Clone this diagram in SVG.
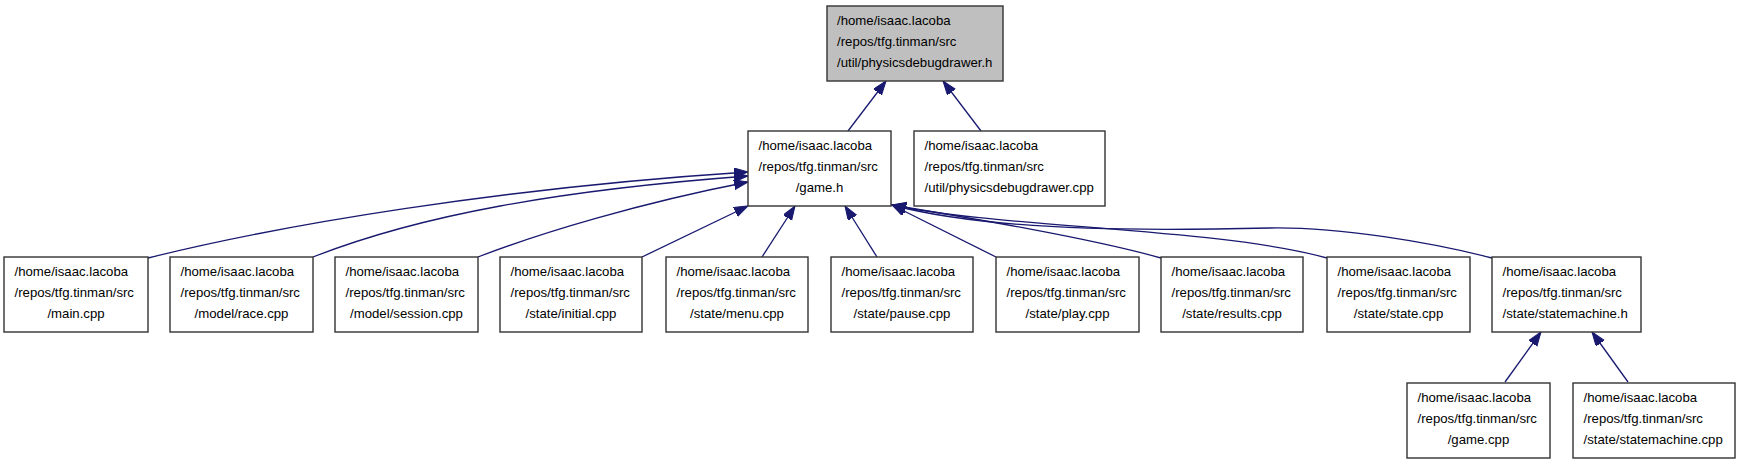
<svg xmlns="http://www.w3.org/2000/svg" width="1741" height="464" viewBox="0 0 1741 464">
<style>
.n rect{fill:#ffffff;stroke:#333333;stroke-width:1.4}
.n.hl rect{fill:#bfbfbf}
.n text{font-family:"Liberation Sans",Arial,Helvetica,sans-serif;font-size:13.2px;fill:#000}
.c{text-anchor:middle}
.e path{fill:none;stroke:#191970;stroke-width:1.3;marker-end:url(#ah)}
</style>
<defs>
<marker id="ah" markerUnits="userSpaceOnUse" markerWidth="15" markerHeight="11" refX="14" refY="5" orient="auto">
<path d="M0,0 L14,5 L0,10 z" fill="#191970" stroke="#191970" stroke-width="1"/>
</marker>
</defs>
<rect width="1741" height="464" fill="#ffffff"/>
<g id="edges" class="e">
<path d="M848,131 L886,81"/>
<path d="M981,131 L943,81"/>
<path d="M148,258 C280,225 500,188 748,172"/>
<path d="M313,257 C420,215 560,190 748,176"/>
<path d="M478,257 C540,233 640,203 748,182"/>
<path d="M642,257 L748,206"/>
<path d="M762,257 L795,206"/>
<path d="M877,257 L845,206"/>
<path d="M996,257 L892,205"/>
<path d="M1161,258 C1090,238 970,218 892,205"/>
<path d="M1327,258 C1220,228 1000,228 892,205"/>
<path d="M1492,258 C1430,242 1340,227 1270,228 C1180,230 1000,234 892,205"/>
<path d="M1505,382 L1541,332"/>
<path d="M1628,382 L1592,332"/>
</g>
<g id="n_top" class="n hl"><rect x="827" y="6" width="176" height="75"/>
<text x="837" y="25">/home/isaac.lacoba</text><text x="837" y="46">/repos/tfg.tinman/src</text><text x="837" y="67">/util/physicsdebugdrawer.h</text></g>
<g id="n_gameh" class="n"><rect x="748" y="131" width="143" height="75"/>
<text x="758.5" y="150">/home/isaac.lacoba</text><text x="758.5" y="171">/repos/tfg.tinman/src</text><text class="c" x="819.5" y="192">/game.h</text></g>
<g id="n_pddcpp" class="n"><rect x="914" y="131" width="191" height="75"/>
<text x="924.5" y="150">/home/isaac.lacoba</text><text x="924.5" y="171">/repos/tfg.tinman/src</text><text x="924.5" y="192">/util/physicsdebugdrawer.cpp</text></g>
<g id="n_main" class="n"><rect x="4" y="257" width="144" height="75"/>
<text x="14.5" y="276">/home/isaac.lacoba</text><text x="14.5" y="297">/repos/tfg.tinman/src</text><text class="c" x="76" y="318">/main.cpp</text></g>
<g id="n_race" class="n"><rect x="170" y="257" width="143" height="75"/>
<text x="180.5" y="276">/home/isaac.lacoba</text><text x="180.5" y="297">/repos/tfg.tinman/src</text><text class="c" x="241.5" y="318">/model/race.cpp</text></g>
<g id="n_session" class="n"><rect x="335" y="257" width="143" height="75"/>
<text x="345.5" y="276">/home/isaac.lacoba</text><text x="345.5" y="297">/repos/tfg.tinman/src</text><text class="c" x="406.5" y="318">/model/session.cpp</text></g>
<g id="n_initial" class="n"><rect x="500" y="257" width="142" height="75"/>
<text x="510.5" y="276">/home/isaac.lacoba</text><text x="510.5" y="297">/repos/tfg.tinman/src</text><text class="c" x="571" y="318">/state/initial.cpp</text></g>
<g id="n_menu" class="n"><rect x="666" y="257" width="142" height="75"/>
<text x="676.5" y="276">/home/isaac.lacoba</text><text x="676.5" y="297">/repos/tfg.tinman/src</text><text class="c" x="737" y="318">/state/menu.cpp</text></g>
<g id="n_pause" class="n"><rect x="831" y="257" width="142" height="75"/>
<text x="841.5" y="276">/home/isaac.lacoba</text><text x="841.5" y="297">/repos/tfg.tinman/src</text><text class="c" x="902" y="318">/state/pause.cpp</text></g>
<g id="n_play" class="n"><rect x="996" y="257" width="143" height="75"/>
<text x="1006.5" y="276">/home/isaac.lacoba</text><text x="1006.5" y="297">/repos/tfg.tinman/src</text><text class="c" x="1067.5" y="318">/state/play.cpp</text></g>
<g id="n_results" class="n"><rect x="1161" y="257" width="142" height="75"/>
<text x="1171.5" y="276">/home/isaac.lacoba</text><text x="1171.5" y="297">/repos/tfg.tinman/src</text><text class="c" x="1232" y="318">/state/results.cpp</text></g>
<g id="n_state" class="n"><rect x="1327" y="257" width="143" height="75"/>
<text x="1337.5" y="276">/home/isaac.lacoba</text><text x="1337.5" y="297">/repos/tfg.tinman/src</text><text class="c" x="1398.5" y="318">/state/state.cpp</text></g>
<g id="n_smh" class="n"><rect x="1492" y="257" width="149" height="75"/>
<text x="1502.5" y="276">/home/isaac.lacoba</text><text x="1502.5" y="297">/repos/tfg.tinman/src</text><text x="1502.5" y="318">/state/statemachine.h</text></g>
<g id="n_gamecpp" class="n"><rect x="1407" y="383" width="143" height="75"/>
<text x="1417.5" y="402">/home/isaac.lacoba</text><text x="1417.5" y="423">/repos/tfg.tinman/src</text><text class="c" x="1478.5" y="444">/game.cpp</text></g>
<g id="n_smcpp" class="n"><rect x="1573" y="383" width="162" height="75"/>
<text x="1583.5" y="402">/home/isaac.lacoba</text><text x="1583.5" y="423">/repos/tfg.tinman/src</text><text x="1583.5" y="444">/state/statemachine.cpp</text></g>
</svg>
